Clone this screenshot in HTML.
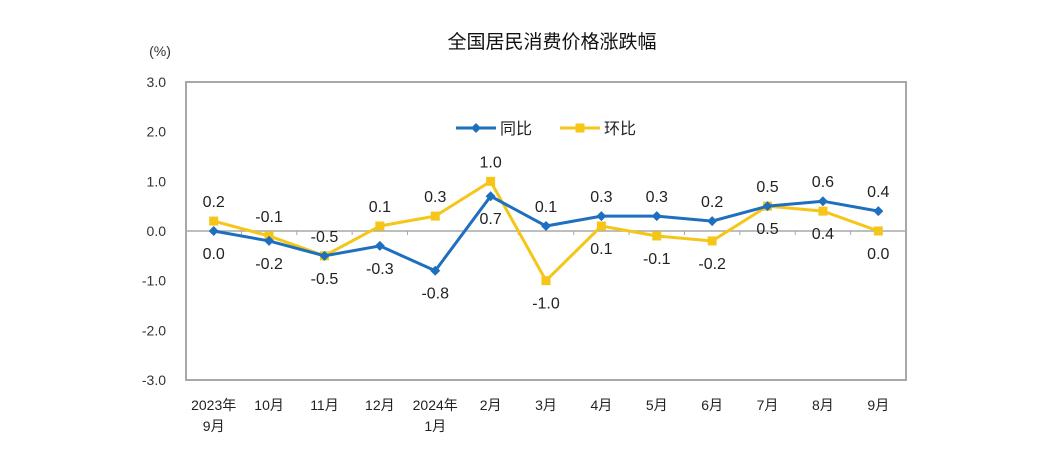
<!DOCTYPE html>
<html><head><meta charset="utf-8"><style>
body{margin:0;background:#fff;}
svg text{font-family:"Liberation Sans","Noto Sans CJK SC",sans-serif;}
</style></head><body>
<svg id="c" width="1050" height="447" xmlns="http://www.w3.org/2000/svg">
<rect width="1050" height="447" fill="#fff"/>
<text x="552" y="48" text-anchor="middle" font-size="19" fill="#111">全国居民消费价格涨跌幅</text>
<text x="160" y="56" text-anchor="middle" font-size="14" fill="#333">(%)</text>
<g id="g"></g>
</svg>
<script>
const categories=["2023年|9月","10月","11月","12月","2024年|1月","2月","3月","4月","5月","6月","7月","8月","9月"];
const yoy=[0.0,-0.2,-0.5,-0.3,-0.8,0.7,0.1,0.3,0.3,0.2,0.5,0.6,0.4];
const mom=[0.2,-0.1,-0.5,0.1,0.3,1.0,-1.0,0.1,-0.1,-0.2,0.5,0.4,0.0];
const yTicks=[3,2,1,0,-1,-2,-3];
const L=186,R=906,T=82,B=380,ymin=-3,ymax=3;
const bw=(R-L)/categories.length;
const xs=i=>L+bw*(i+0.5);
const ys=v=>B-(v-ymin)/(ymax-ymin)*(B-T);
const g=document.getElementById('g');
const NS="http://www.w3.org/2000/svg";
function mk(t,a,p){const e=document.createElementNS(NS,t);for(const k in a)e.setAttribute(k,a[k]);(p||g).appendChild(e);return e;}
let f=mk('rect',{x:L,y:T,width:R-L,height:B-T,fill:'none',stroke:'#a8a8a8','stroke-width':2});


let z=mk('line',{x1:L,x2:R,y1:ys(0),y2:ys(0),stroke:'#a8a8a8','stroke-width':1.5});


yTicks.forEach(v=>{const t=mk('text',{x:166,y:ys(v)+5,'text-anchor':'end','font-size':14,fill:'#333'});t.textContent=v.toFixed(1);

});
for(let i=1;i<categories.length;i++){const tk=mk('line',{x1:L+bw*i,x2:L+bw*i,y1:ys(0),y2:ys(0)+4,stroke:'#a8a8a8'});

}
categories.forEach((c,i)=>{c.split('|').forEach((s,j)=>{const t=mk('text',{x:xs(i),y:410+j*21,'text-anchor':'middle','font-size':14,fill:'#222'});t.textContent=s;

});});
function series(d,col,name,marker,above){
 const p=mk('polyline',{points:d.map((v,i)=>xs(i)+','+ys(v)).join(' '),fill:'none',stroke:col,'stroke-width':3});
 
 
 d.forEach((v,i)=>{const x=xs(i),y=ys(v);let m;
  if(marker==='d')m=mk('polygon',{points:`${x},${y-5} ${x+5},${y} ${x},${y+5} ${x-5},${y}`,fill:col});
  else m=mk('rect',{x:x-4.5,y:y-4.5,width:9,height:9,fill:col});
  
  
  const up=above(i);const t=mk('text',{x:x,y:up?y-14:y+28,'text-anchor':'middle','font-size':16,fill:'#222'});t.textContent=v.toFixed(1);
  
  });
}
series(mom,'#f5c518','mom','s',i=>i<6);
series(yoy,'#1f6fbf','yoy','d',i=>i>=6);
// legend
const lg=mk('g',{});


let l1=mk('line',{x1:456,x2:496,y1:128,y2:128,stroke:'#1f6fbf','stroke-width':3},lg);
mk('polygon',{points:'476,123 481,128 476,133 471,128',fill:'#1f6fbf'},lg);
let t1=mk('text',{x:500,y:134,'font-size':16,fill:'#222'},lg);t1.textContent='同比';


mk('line',{x1:560,x2:600,y1:128,y2:128,stroke:'#f5c518','stroke-width':3},lg);
mk('rect',{x:575.5,y:123.5,width:9,height:9,fill:'#f5c518'},lg);
let t2=mk('text',{x:604,y:134,'font-size':16,fill:'#222'},lg);t2.textContent='环比';


</script>
</body></html>
